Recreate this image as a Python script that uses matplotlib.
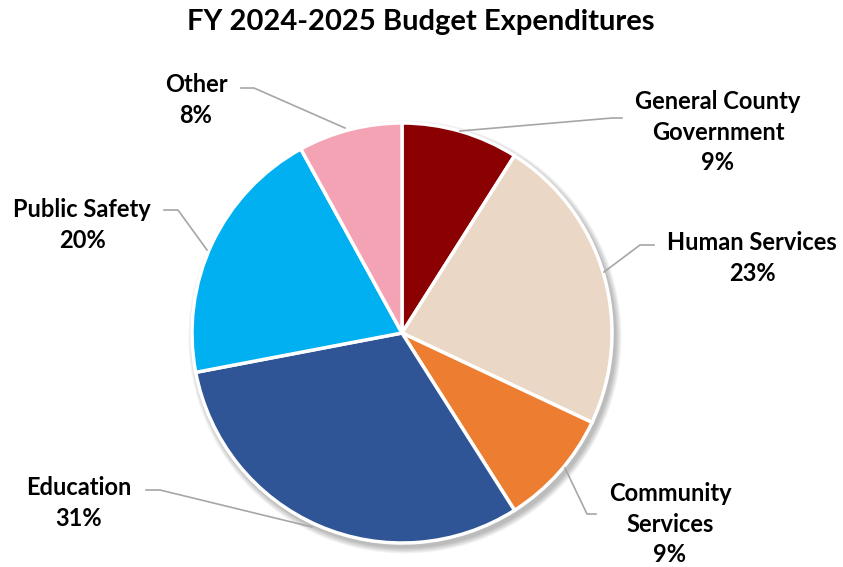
import numpy as np
import matplotlib.pyplot as plt
from matplotlib.patches import Circle

# Доли расходов бюджета
categories = ["General County\nGovernment", "Human Services", "Community\nServices",
              "Education", "Public Safety", "Other"]
shares = [9, 23, 9, 31, 20, 8]
colors = ["#8B0000", "#EAD7C5", "#ED7D31", "#2F5597", "#00B0F0", "#F4A3B4"]

plt.rcParams['font.family'] = ['Lato', 'DejaVu Sans']

W, H = 843, 567
fig = plt.figure(figsize=(W / 100, H / 100), dpi=100)
ax = fig.add_axes([0, 0, 1, 1])

cx, cy, r = 402, H - 333, 210

# мягкая тень под кругом
for k in range(8):
    ax.add_patch(Circle((cx + 3, cy - 4), r + 1 + k * 0.8, color='black',
                        alpha=0.035, lw=0, zorder=1))
ax.add_patch(Circle((cx, cy), r, color='white', lw=0, zorder=1.5))

ax.pie(shares, colors=colors, startangle=90, counterclock=False,
       center=(cx, cy), radius=r, frame=True,
       wedgeprops=dict(edgecolor='white', linewidth=2.5, zorder=2))
ax.set_xlim(0, W)
ax.set_ylim(0, H)
ax.set_aspect('equal')
ax.axis('off')

# подписи и выноски (x, y центра текста; точки линии)
labels = [f"{c}\n{s}%" for c, s in zip(categories, shares)]
label_pos = [(718, 132), (752, 258), (670, 524), (79, 503), (82, 225), (196, 100)]
leaders = [
    [(460, 131), (612, 118), (622, 118)],
    [(604, 272), (640, 245), (654, 245)],
    [(565, 468), (587, 514), (596, 514)],
    [(312, 527), (160, 490), (146, 490)],
    [(207, 250), (178, 210), (164, 210)],
    [(345, 128), (254, 88), (241, 88)],
]
for text, (x, y), pts in zip(labels, label_pos, leaders):
    ax.text(x, H - y, text, ha='center', va='center', fontsize=17,
            fontweight='bold', linespacing=1.38, color='black', zorder=5)
    xs = [p[0] for p in pts]
    ys = [H - p[1] for p in pts]
    ax.plot(xs, ys, color='#A6A6A6', lw=1.2, zorder=3)

ax.text(421, H - 22, "FY 2024-2025 Budget Expenditures", ha='center', va='center',
        fontsize=21, fontweight='bold', color='black')

fig.savefig("out.png", dpi=100)
